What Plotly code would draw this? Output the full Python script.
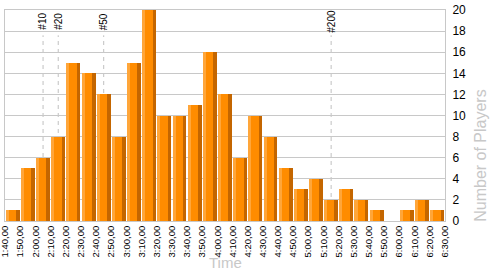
import plotly.graph_objects as go

# Bin edges (tick labels) and counts per 10-minute bin
edge_labels = ["1:40,00", "1:50,00", "2:00,00", "2:10,00", "2:20,00", "2:30,00",
               "2:40,00", "2:50,00", "3:00,00", "3:10,00", "3:20,00", "3:30,00",
               "3:40,00", "3:50,00", "4:00,00", "4:10,00", "4:20,00", "4:30,00",
               "4:40,00", "4:50,00", "5:00,00", "5:10,00", "5:20,00", "5:30,00",
               "5:40,00", "5:50,00", "6:00,00", "6:10,00", "6:20,00", "6:30,00"]
players = [1, 5, 6, 8, 15, 14, 12, 8, 15, 20, 10, 10, 11, 16, 12, 6, 10, 8,
           5, 3, 4, 2, 3, 2, 1, 0, 1, 2, 1]

# Rank markers: label and bin index where they fall
marker_labels = ["#10", "#20", "#50", "#200"]
marker_bins = [2, 3, 6, 21]

bin_x = list(range(len(players)))

MAIN = "#FF8C00"
LIGHT = "#FFA63A"
DARK = "#C46600"
GRID = "#C8C8C8"
FONT = "Liberation Sans, Arial"

fig = go.Figure()
fig.add_trace(go.Bar(x=bin_x, y=players, offset=0.04, width=0.92,
                     marker=dict(color=MAIN, line=dict(width=0)), hoverinfo="skip"))
fig.add_trace(go.Bar(x=bin_x, y=players, offset=0.04, width=0.2,
                     marker=dict(color=LIGHT, line=dict(width=0)), hoverinfo="skip"))
fig.add_trace(go.Bar(x=bin_x, y=players, offset=0.72, width=0.24,
                     marker=dict(color=DARK, line=dict(width=0)), hoverinfo="skip"))

for lab, b in zip(marker_labels, marker_bins):
    fig.add_shape(type="line", xref="x", yref="paper", x0=b + 0.5, x1=b + 0.5,
                  y0=0, y1=0.88, layer="below",
                  line=dict(color="#C0C0C0", width=1, dash="4px,4px"))
    fig.add_annotation(x=b + 0.5, xref="x", yref="paper", y=0.945,
                       text=lab, textangle=-90, showarrow=False,
                       xanchor="center", yanchor="middle",
                       font=dict(family=FONT, size=10, color="#000000"))

fig.add_annotation(xref="paper", yref="paper", x=1.08, y=0.31, text="Number of Players",
                   textangle=-90, showarrow=False, xanchor="center", yanchor="middle",
                   font=dict(family=FONT, size=16, color="#C8C8C8"))
fig.add_annotation(xref="paper", yref="paper", x=0.5, y=-0.195, text="Time",
                   showarrow=False, xanchor="center", yanchor="middle",
                   font=dict(family=FONT, size=15, color="#C8C8C8"))

fig.update_layout(
    width=500, height=275,
    margin=dict(l=5, r=55, t=10, b=54),
    paper_bgcolor="white", plot_bgcolor="white",
    barmode="overlay", bargap=0, showlegend=False,
    xaxis=dict(range=[-0.01, len(players) + 0.01], tickmode="array",
               tickvals=list(range(len(edge_labels))), ticktext=edge_labels,
               tickangle=-90, showgrid=False, zeroline=False, automargin=False,
               ticklabeloverflow="allow",
               showline=True, mirror=True, linecolor=GRID, linewidth=1,
               ticks="", tickfont=dict(family=FONT, size=9.5, color="#000000")),
    yaxis=dict(range=[0, 20], dtick=2, side="right", showgrid=True, gridcolor=GRID,
               zeroline=False, showline=True, mirror=True, linecolor=GRID, linewidth=1,
               ticks="", ticklabelstandoff=4, automargin=False,
               tickfont=dict(family=FONT, size=12, color="#000000")),
)

fig.write_html("out.html")
